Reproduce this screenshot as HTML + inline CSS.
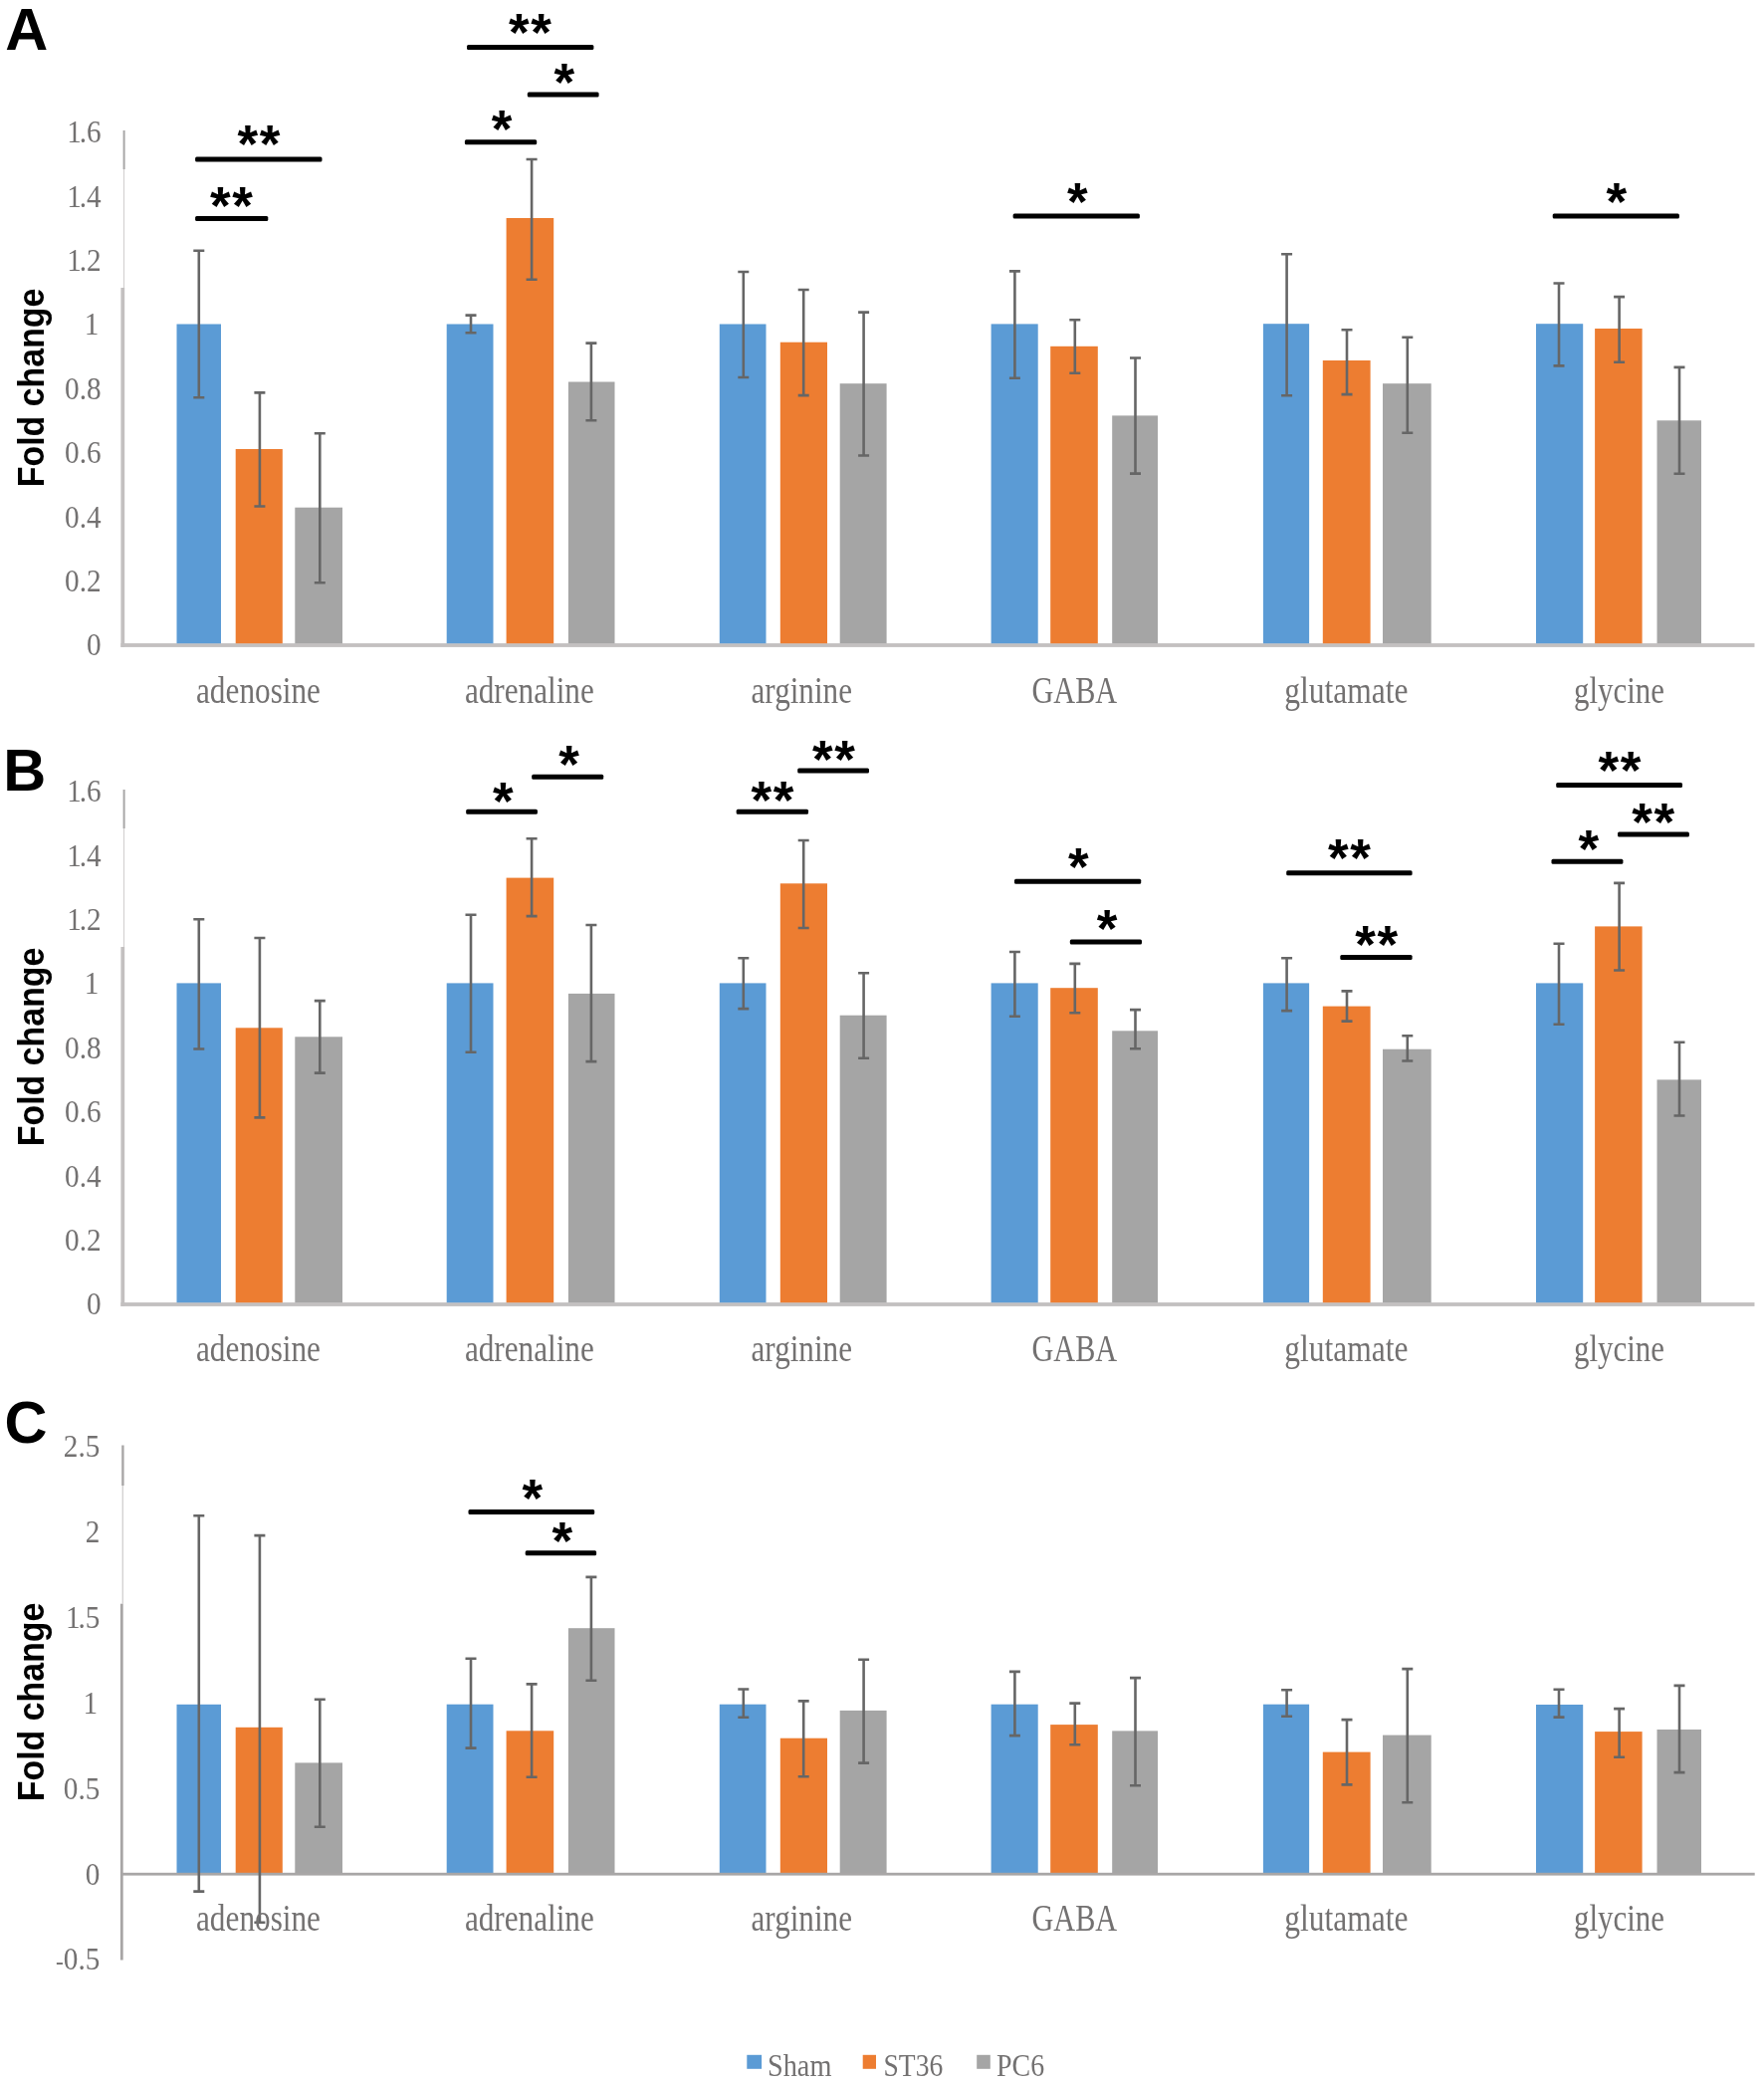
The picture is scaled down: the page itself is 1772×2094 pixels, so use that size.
<!DOCTYPE html>
<html lang="en"><head><meta charset="utf-8"><title>Fold change of neurotransmitters: Sham, ST36, PC6</title>
<style>html,body{margin:0;padding:0;background:#fff}svg{display:block;filter:blur(0.45px)}.cat{font-family:"Liberation Serif",serif;font-size:38px;fill:#737171}.tick{font-family:"Liberation Serif",serif;font-size:32.5px;fill:#737171}.star{font-family:"Liberation Sans",sans-serif;font-weight:bold;font-size:53px;fill:#000}.let{font-family:"Liberation Sans",sans-serif;font-weight:bold;font-size:59.5px;fill:#000}.yl{font-family:"Liberation Sans",sans-serif;font-weight:bold;font-size:37.5px;fill:#000}.leg{font-family:"Liberation Serif",serif;font-size:30.5px;fill:#737171}</style></head><body>
<svg width="1772" height="2094" viewBox="0 0 1772 2094">
<rect width="1772" height="2094" fill="#fff"/>
<g id="panelA">
<rect x="123.6" y="131" width="2" height="39" fill="#a9a7a7"/>
<rect x="123.9" y="170" width="1.2" height="119" fill="#d4d2d2"/>
<rect x="121.4" y="289" width="3.8" height="360.9" fill="#c3c0c0"/>
<rect x="121.4" y="646.1" width="1641.1" height="3.8" fill="#c3c0c0"/>
<rect x="177.5" y="325.5" width="44.5" height="320.7" fill="#5b9bd5"/>
<rect x="236.7" y="451" width="47.1" height="195.2" fill="#ed7d31"/>
<rect x="296.3" y="509.7" width="47.7" height="136.5" fill="#a5a5a5"/>
<rect x="448.7" y="325.5" width="46.8" height="320.7" fill="#5b9bd5"/>
<rect x="508.6" y="219" width="47.6" height="427.2" fill="#ed7d31"/>
<rect x="570.9" y="383.5" width="46.6" height="262.7" fill="#a5a5a5"/>
<rect x="722.8" y="325.5" width="46.7" height="320.7" fill="#5b9bd5"/>
<rect x="783.8" y="343.7" width="47.2" height="302.5" fill="#ed7d31"/>
<rect x="843.7" y="385.2" width="46.9" height="261" fill="#a5a5a5"/>
<rect x="995.6" y="325.4" width="47.1" height="320.8" fill="#5b9bd5"/>
<rect x="1055.2" y="347.8" width="47.6" height="298.4" fill="#ed7d31"/>
<rect x="1117.2" y="417.4" width="45.8" height="228.8" fill="#a5a5a5"/>
<rect x="1268.9" y="325.2" width="46.2" height="321" fill="#5b9bd5"/>
<rect x="1328.8" y="362" width="47.8" height="284.2" fill="#ed7d31"/>
<rect x="1389" y="385.2" width="48.7" height="261" fill="#a5a5a5"/>
<rect x="1543" y="325.2" width="47.2" height="321" fill="#5b9bd5"/>
<rect x="1602.1" y="330" width="47.5" height="316.2" fill="#ed7d31"/>
<rect x="1664.5" y="422.3" width="44.5" height="223.9" fill="#a5a5a5"/>
<path d="M199.8 251.5V399.5M194.3 251.7h11M194.3 399.3h11" stroke="#666666" stroke-width="2.6" fill="none"/>
<path d="M260.9 394.2V508.7M255.4 394.4h11M255.4 508.5h11" stroke="#666666" stroke-width="2.6" fill="none"/>
<path d="M321.3 435V585.5M315.8 435.2h11M315.8 585.3h11" stroke="#666666" stroke-width="2.6" fill="none"/>
<path d="M473 316.4V334.5M467.5 316.6h11M467.5 334.3h11" stroke="#666666" stroke-width="2.6" fill="none"/>
<path d="M534.1 159.8V281M528.6 160h11M528.6 280.8h11" stroke="#666666" stroke-width="2.6" fill="none"/>
<path d="M593.9 344.4V422.4M588.4 344.6h11M588.4 422.2h11" stroke="#666666" stroke-width="2.6" fill="none"/>
<path d="M746.8 272.8V379.2M741.3 273h11M741.3 379h11" stroke="#666666" stroke-width="2.6" fill="none"/>
<path d="M807.2 290.8V397.3M801.7 291h11M801.7 397.1h11" stroke="#666666" stroke-width="2.6" fill="none"/>
<path d="M867.6 313.4V457.7M862.1 313.6h11M862.1 457.5h11" stroke="#666666" stroke-width="2.6" fill="none"/>
<path d="M1019.4 272.2V380M1013.9 272.4h11M1013.9 379.8h11" stroke="#666666" stroke-width="2.6" fill="none"/>
<path d="M1079.8 321.1V375M1074.3 321.3h11M1074.3 374.8h11" stroke="#666666" stroke-width="2.6" fill="none"/>
<path d="M1140.5 359.3V475.8M1135 359.5h11M1135 475.6h11" stroke="#666666" stroke-width="2.6" fill="none"/>
<path d="M1292.6 255V397.5M1287.1 255.2h11M1287.1 397.3h11" stroke="#666666" stroke-width="2.6" fill="none"/>
<path d="M1353 331V396.3M1347.5 331.2h11M1347.5 396.1h11" stroke="#666666" stroke-width="2.6" fill="none"/>
<path d="M1413.8 338.6V434.9M1408.3 338.8h11M1408.3 434.7h11" stroke="#666666" stroke-width="2.6" fill="none"/>
<path d="M1566 284.3V367.6M1560.5 284.5h11M1560.5 367.4h11" stroke="#666666" stroke-width="2.6" fill="none"/>
<path d="M1626.6 297.9V364M1621.1 298.1h11M1621.1 363.8h11" stroke="#666666" stroke-width="2.6" fill="none"/>
<path d="M1687 368.7V475.9M1681.5 368.9h11M1681.5 475.7h11" stroke="#666666" stroke-width="2.6" fill="none"/>
<text class="tick" transform="translate(101.6 658.3) scale(0.9 1)" text-anchor="end">0</text>
<text class="tick" transform="translate(101.6 593.9) scale(0.9 1)" text-anchor="end">0.2</text>
<text class="tick" transform="translate(101.6 529.5) scale(0.9 1)" text-anchor="end">0.4</text>
<text class="tick" transform="translate(101.6 465.1) scale(0.9 1)" text-anchor="end">0.6</text>
<text class="tick" transform="translate(101.6 400.7) scale(0.9 1)" text-anchor="end">0.8</text>
<text class="tick" transform="translate(99.4 336.3) scale(0.9 1)" text-anchor="end">1</text>
<text class="tick" transform="translate(101.6 271.9) scale(0.9 1)" text-anchor="end">1<tspan dx="-2.5">.2</tspan></text>
<text class="tick" transform="translate(101.6 207.5) scale(0.9 1)" text-anchor="end">1<tspan dx="-2.5">.4</tspan></text>
<text class="tick" transform="translate(101.6 143.1) scale(0.9 1)" text-anchor="end">1<tspan dx="-2.5">.6</tspan></text>
<text class="cat" x="197" y="705.6" textLength="125" lengthAdjust="spacingAndGlyphs">adenosine</text>
<text class="cat" x="466.9" y="705.6" textLength="129.9" lengthAdjust="spacingAndGlyphs">adrenaline</text>
<text class="cat" x="754.5" y="705.6" textLength="101.5" lengthAdjust="spacingAndGlyphs">arginine</text>
<text class="cat" x="1036.5" y="705.6" textLength="85.6" lengthAdjust="spacingAndGlyphs">GABA</text>
<text class="cat" x="1290.2" y="705.6" textLength="124.2" lengthAdjust="spacingAndGlyphs">glutamate</text>
<text class="cat" x="1581" y="705.6" textLength="91" lengthAdjust="spacingAndGlyphs">glycine</text>
<rect x="196.1" y="157.5" width="127.4" height="5" rx="1.5" fill="#000"/>
<text class="star" x="260" y="162.9" text-anchor="middle" letter-spacing="1.6">*<tspan letter-spacing="0">*</tspan></text>
<rect x="196.1" y="217.1" width="73.2" height="5" rx="1.5" fill="#000"/>
<text class="star" x="232.4" y="224.95" text-anchor="middle" letter-spacing="1.6">*<tspan letter-spacing="0">*</tspan></text>
<rect x="469" y="44.9" width="127.4" height="5" rx="1.5" fill="#000"/>
<text class="star" x="532.4" y="50.9" text-anchor="middle" letter-spacing="1.6">*<tspan letter-spacing="0">*</tspan></text>
<rect x="529.8" y="92.5" width="71.8" height="5" rx="1.5" fill="#000"/>
<text class="star" x="566.7" y="100.5" text-anchor="middle">*</text>
<rect x="466.9" y="140.2" width="72.3" height="5" rx="1.5" fill="#000"/>
<text class="star" x="504" y="148.1" text-anchor="middle">*</text>
<rect x="1017.6" y="214.4" width="127.3" height="5" rx="1.5" fill="#000"/>
<text class="star" x="1082.3" y="220.6" text-anchor="middle">*</text>
<rect x="1559.7" y="214.5" width="127.2" height="5" rx="1.5" fill="#000"/>
<text class="star" x="1623.8" y="221.1" text-anchor="middle">*</text>
<text class="let" x="5.3" y="50">A</text>
<text class="yl" transform="translate(44.3 489.2) rotate(-90)" textLength="199.6" lengthAdjust="spacingAndGlyphs">Fold change</text>
</g>
<g id="panelB">
<rect x="123.6" y="793" width="2" height="39" fill="#a9a7a7"/>
<rect x="123.9" y="832" width="1.2" height="119" fill="#d4d2d2"/>
<rect x="121.4" y="951" width="3.8" height="360.9" fill="#c3c0c0"/>
<rect x="121.4" y="1308.1" width="1641.1" height="3.8" fill="#c3c0c0"/>
<rect x="177.5" y="987.4" width="44.5" height="320.8" fill="#5b9bd5"/>
<rect x="236.7" y="1032.3" width="47.1" height="275.9" fill="#ed7d31"/>
<rect x="296.3" y="1041.3" width="47.7" height="266.9" fill="#a5a5a5"/>
<rect x="448.7" y="987.4" width="46.8" height="320.8" fill="#5b9bd5"/>
<rect x="508.6" y="881.6" width="47.6" height="426.6" fill="#ed7d31"/>
<rect x="570.9" y="997.9" width="46.6" height="310.3" fill="#a5a5a5"/>
<rect x="722.8" y="987.4" width="46.7" height="320.8" fill="#5b9bd5"/>
<rect x="783.8" y="887.3" width="47.2" height="420.9" fill="#ed7d31"/>
<rect x="843.7" y="1019.7" width="46.9" height="288.5" fill="#a5a5a5"/>
<rect x="995.6" y="987.4" width="47.1" height="320.8" fill="#5b9bd5"/>
<rect x="1055.2" y="992.2" width="47.6" height="316" fill="#ed7d31"/>
<rect x="1117.2" y="1035.3" width="45.8" height="272.9" fill="#a5a5a5"/>
<rect x="1268.9" y="987.4" width="46.2" height="320.8" fill="#5b9bd5"/>
<rect x="1328.8" y="1010.6" width="47.8" height="297.6" fill="#ed7d31"/>
<rect x="1389" y="1053.7" width="48.7" height="254.5" fill="#a5a5a5"/>
<rect x="1543" y="987.4" width="47.2" height="320.8" fill="#5b9bd5"/>
<rect x="1602.1" y="930.4" width="47.5" height="377.8" fill="#ed7d31"/>
<rect x="1664.5" y="1084.4" width="44.5" height="223.8" fill="#a5a5a5"/>
<path d="M199.8 923V1053.7M194.3 923.2h11M194.3 1053.5h11" stroke="#666666" stroke-width="2.6" fill="none"/>
<path d="M260.9 941.8V1122.6M255.4 942h11M255.4 1122.4h11" stroke="#666666" stroke-width="2.6" fill="none"/>
<path d="M321.3 1004.9V1077.8M315.8 1005.1h11M315.8 1077.6h11" stroke="#666666" stroke-width="2.6" fill="none"/>
<path d="M473 918.6V1057M467.5 918.8h11M467.5 1056.8h11" stroke="#666666" stroke-width="2.6" fill="none"/>
<path d="M534.1 842.1V920.3M528.6 842.3h11M528.6 920.1h11" stroke="#666666" stroke-width="2.6" fill="none"/>
<path d="M593.9 928.8V1066.3M588.4 929h11M588.4 1066.1h11" stroke="#666666" stroke-width="2.6" fill="none"/>
<path d="M746.8 962V1013.3M741.3 962.2h11M741.3 1013.1h11" stroke="#666666" stroke-width="2.6" fill="none"/>
<path d="M807.2 843.8V932.2M801.7 844h11M801.7 932h11" stroke="#666666" stroke-width="2.6" fill="none"/>
<path d="M867.6 977V1062.9M862.1 977.2h11M862.1 1062.7h11" stroke="#666666" stroke-width="2.6" fill="none"/>
<path d="M1019.4 955.8V1021M1013.9 956h11M1013.9 1020.8h11" stroke="#666666" stroke-width="2.6" fill="none"/>
<path d="M1079.8 967.7V1017.5M1074.3 967.9h11M1074.3 1017.3h11" stroke="#666666" stroke-width="2.6" fill="none"/>
<path d="M1140.5 1013.9V1053.5M1135 1014.1h11M1135 1053.3h11" stroke="#666666" stroke-width="2.6" fill="none"/>
<path d="M1292.6 962V1015.3M1287.1 962.2h11M1287.1 1015.1h11" stroke="#666666" stroke-width="2.6" fill="none"/>
<path d="M1353 995.2V1025.8M1347.5 995.4h11M1347.5 1025.6h11" stroke="#666666" stroke-width="2.6" fill="none"/>
<path d="M1413.8 1040V1065.7M1408.3 1040.2h11M1408.3 1065.5h11" stroke="#666666" stroke-width="2.6" fill="none"/>
<path d="M1566 947.5V1029M1560.5 947.7h11M1560.5 1028.8h11" stroke="#666666" stroke-width="2.6" fill="none"/>
<path d="M1626.6 886.7V974.7M1621.1 886.9h11M1621.1 974.5h11" stroke="#666666" stroke-width="2.6" fill="none"/>
<path d="M1687 1046.5V1120.7M1681.5 1046.7h11M1681.5 1120.5h11" stroke="#666666" stroke-width="2.6" fill="none"/>
<text class="tick" transform="translate(101.6 1320.3) scale(0.9 1)" text-anchor="end">0</text>
<text class="tick" transform="translate(101.6 1255.9) scale(0.9 1)" text-anchor="end">0.2</text>
<text class="tick" transform="translate(101.6 1191.5) scale(0.9 1)" text-anchor="end">0.4</text>
<text class="tick" transform="translate(101.6 1127.1) scale(0.9 1)" text-anchor="end">0.6</text>
<text class="tick" transform="translate(101.6 1062.7) scale(0.9 1)" text-anchor="end">0.8</text>
<text class="tick" transform="translate(99.4 998.3) scale(0.9 1)" text-anchor="end">1</text>
<text class="tick" transform="translate(101.6 933.9) scale(0.9 1)" text-anchor="end">1<tspan dx="-2.5">.2</tspan></text>
<text class="tick" transform="translate(101.6 869.5) scale(0.9 1)" text-anchor="end">1<tspan dx="-2.5">.4</tspan></text>
<text class="tick" transform="translate(101.6 805.1) scale(0.9 1)" text-anchor="end">1<tspan dx="-2.5">.6</tspan></text>
<text class="cat" x="197" y="1366.8" textLength="125" lengthAdjust="spacingAndGlyphs">adenosine</text>
<text class="cat" x="466.9" y="1366.8" textLength="129.9" lengthAdjust="spacingAndGlyphs">adrenaline</text>
<text class="cat" x="754.5" y="1366.8" textLength="101.5" lengthAdjust="spacingAndGlyphs">arginine</text>
<text class="cat" x="1036.5" y="1366.8" textLength="85.6" lengthAdjust="spacingAndGlyphs">GABA</text>
<text class="cat" x="1290.2" y="1366.8" textLength="124.2" lengthAdjust="spacingAndGlyphs">glutamate</text>
<text class="cat" x="1581" y="1366.8" textLength="91" lengthAdjust="spacingAndGlyphs">glycine</text>
<rect x="468.2" y="812.8" width="71.7" height="5" rx="1.5" fill="#000"/>
<text class="star" x="505.2" y="822.8" text-anchor="middle">*</text>
<rect x="534.2" y="777.7" width="72" height="5" rx="1.5" fill="#000"/>
<text class="star" x="571.6" y="786.4" text-anchor="middle">*</text>
<rect x="739.7" y="812.8" width="72.3" height="5" rx="1.5" fill="#000"/>
<text class="star" x="775.9" y="822.1" text-anchor="middle" letter-spacing="1.6">*<tspan letter-spacing="0">*</tspan></text>
<rect x="801.2" y="771.4" width="71.8" height="5" rx="1.5" fill="#000"/>
<text class="star" x="837.4" y="781" text-anchor="middle" letter-spacing="1.6">*<tspan letter-spacing="0">*</tspan></text>
<rect x="1019" y="882.8" width="127.2" height="5" rx="1.5" fill="#000"/>
<text class="star" x="1083.4" y="889.1" text-anchor="middle">*</text>
<rect x="1074.8" y="943.5" width="72.2" height="5" rx="1.5" fill="#000"/>
<text class="star" x="1112" y="951.2" text-anchor="middle">*</text>
<rect x="1292.2" y="874.3" width="126.4" height="5" rx="1.5" fill="#000"/>
<text class="star" x="1355.4" y="880.4" text-anchor="middle" letter-spacing="1.6">*<tspan letter-spacing="0">*</tspan></text>
<rect x="1346.3" y="959.1" width="72.3" height="5" rx="1.5" fill="#000"/>
<text class="star" x="1382.6" y="967.4" text-anchor="middle" letter-spacing="1.6">*<tspan letter-spacing="0">*</tspan></text>
<rect x="1563.2" y="785.9" width="126.8" height="5" rx="1.5" fill="#000"/>
<text class="star" x="1627" y="791.6" text-anchor="middle" letter-spacing="1.6">*<tspan letter-spacing="0">*</tspan></text>
<rect x="1625" y="835.6" width="71.9" height="5" rx="1.5" fill="#000"/>
<text class="star" x="1660.7" y="844.2" text-anchor="middle" letter-spacing="1.6">*<tspan letter-spacing="0">*</tspan></text>
<rect x="1558.5" y="862.8" width="71.9" height="5" rx="1.5" fill="#000"/>
<text class="star" x="1595.7" y="870.6" text-anchor="middle">*</text>
<text class="let" x="3.2" y="794.4">B</text>
<text class="yl" transform="translate(44.3 1151.2) rotate(-90)" textLength="199.6" lengthAdjust="spacingAndGlyphs">Fold change</text>
</g>
<g id="panelC">
<rect x="122.2" y="1451.5" width="2.4" height="40.5" fill="#a9a7a7"/>
<rect x="122.6" y="1492" width="1.4" height="118.7" fill="#d4d2d2"/>
<rect x="120.9" y="1610.7" width="2.8" height="357.8" fill="#a8a6a6"/>
<rect x="177.5" y="1711.8" width="44.5" height="169.4" fill="#5b9bd5"/>
<rect x="236.7" y="1734.8" width="47.1" height="146.4" fill="#ed7d31"/>
<rect x="296.3" y="1770.4" width="47.7" height="110.8" fill="#a5a5a5"/>
<rect x="448.7" y="1711.7" width="46.8" height="169.5" fill="#5b9bd5"/>
<rect x="508.6" y="1738.3" width="47.6" height="142.9" fill="#ed7d31"/>
<rect x="570.9" y="1635.2" width="46.6" height="246" fill="#a5a5a5"/>
<rect x="722.8" y="1711.7" width="46.7" height="169.5" fill="#5b9bd5"/>
<rect x="783.8" y="1745.7" width="47.2" height="135.5" fill="#ed7d31"/>
<rect x="843.7" y="1717.9" width="46.9" height="163.3" fill="#a5a5a5"/>
<rect x="995.6" y="1711.7" width="47.1" height="169.5" fill="#5b9bd5"/>
<rect x="1055.2" y="1732.1" width="47.6" height="149.1" fill="#ed7d31"/>
<rect x="1117.2" y="1738.4" width="45.8" height="142.8" fill="#a5a5a5"/>
<rect x="1268.9" y="1711.7" width="46.2" height="169.5" fill="#5b9bd5"/>
<rect x="1328.8" y="1759.6" width="47.8" height="121.6" fill="#ed7d31"/>
<rect x="1389" y="1742.6" width="48.7" height="138.6" fill="#a5a5a5"/>
<rect x="1543" y="1712" width="47.2" height="169.2" fill="#5b9bd5"/>
<rect x="1602.1" y="1739.1" width="47.5" height="142.1" fill="#ed7d31"/>
<rect x="1664.5" y="1737" width="44.5" height="144.2" fill="#a5a5a5"/>
<rect x="121.1" y="1880.8" width="1641.6" height="2.8" fill="#a8a6a6"/>
<path d="M199.8 1522V1899.8M194.3 1522.2h11M194.3 1899.6h11" stroke="#666666" stroke-width="2.6" fill="none"/>
<path d="M260.9 1541.9V1931M255.4 1542.1h11M255.4 1930.8h11" stroke="#666666" stroke-width="2.6" fill="none"/>
<path d="M321.3 1706.5V1835M315.8 1706.7h11M315.8 1834.8h11" stroke="#666666" stroke-width="2.6" fill="none"/>
<path d="M473 1665.6V1755.8M467.5 1665.8h11M467.5 1755.6h11" stroke="#666666" stroke-width="2.6" fill="none"/>
<path d="M534.1 1691.2V1785M528.6 1691.4h11M528.6 1784.8h11" stroke="#666666" stroke-width="2.6" fill="none"/>
<path d="M593.9 1583.7V1688M588.4 1583.9h11M588.4 1687.8h11" stroke="#666666" stroke-width="2.6" fill="none"/>
<path d="M746.8 1696.3V1724.9M741.3 1696.5h11M741.3 1724.7h11" stroke="#666666" stroke-width="2.6" fill="none"/>
<path d="M807.2 1708.2V1784.4M801.7 1708.4h11M801.7 1784.2h11" stroke="#666666" stroke-width="2.6" fill="none"/>
<path d="M867.6 1666.5V1770.8M862.1 1666.7h11M862.1 1770.6h11" stroke="#666666" stroke-width="2.6" fill="none"/>
<path d="M1019.4 1678.7V1743.3M1013.9 1678.9h11M1013.9 1743.1h11" stroke="#666666" stroke-width="2.6" fill="none"/>
<path d="M1079.8 1710.4V1752.4M1074.3 1710.6h11M1074.3 1752.2h11" stroke="#666666" stroke-width="2.6" fill="none"/>
<path d="M1140.5 1684.9V1793.5M1135 1685.1h11M1135 1793.3h11" stroke="#666666" stroke-width="2.6" fill="none"/>
<path d="M1292.6 1697.1V1724M1287.1 1697.3h11M1287.1 1723.8h11" stroke="#666666" stroke-width="2.6" fill="none"/>
<path d="M1353 1726.9V1792.6M1347.5 1727.1h11M1347.5 1792.4h11" stroke="#666666" stroke-width="2.6" fill="none"/>
<path d="M1413.8 1675.9V1810.5M1408.3 1676.1h11M1408.3 1810.3h11" stroke="#666666" stroke-width="2.6" fill="none"/>
<path d="M1566 1696.5V1724.8M1560.5 1696.7h11M1560.5 1724.6h11" stroke="#666666" stroke-width="2.6" fill="none"/>
<path d="M1626.6 1715.9V1764.9M1621.1 1716.1h11M1621.1 1764.7h11" stroke="#666666" stroke-width="2.6" fill="none"/>
<path d="M1687 1692.7V1780.3M1681.5 1692.9h11M1681.5 1780.1h11" stroke="#666666" stroke-width="2.6" fill="none"/>
<text class="tick" transform="translate(100.4 1978.35) scale(0.9 1)" text-anchor="end"><tspan font-size="26">-</tspan>0.5</text>
<text class="tick" transform="translate(100.4 1892.5) scale(0.9 1)" text-anchor="end">0</text>
<text class="tick" transform="translate(100.4 1806.65) scale(0.9 1)" text-anchor="end">0.5</text>
<text class="tick" transform="translate(98.2 1720.8) scale(0.9 1)" text-anchor="end">1</text>
<text class="tick" transform="translate(100.4 1634.95) scale(0.9 1)" text-anchor="end">1<tspan dx="-2.5">.5</tspan></text>
<text class="tick" transform="translate(100.4 1549.1) scale(0.9 1)" text-anchor="end">2</text>
<text class="tick" transform="translate(100.4 1463.25) scale(0.9 1)" text-anchor="end">2.5</text>
<text class="cat" x="197" y="1939.2" textLength="125" lengthAdjust="spacingAndGlyphs">adenosine</text>
<text class="cat" x="466.9" y="1939.2" textLength="129.9" lengthAdjust="spacingAndGlyphs">adrenaline</text>
<text class="cat" x="754.5" y="1939.2" textLength="101.5" lengthAdjust="spacingAndGlyphs">arginine</text>
<text class="cat" x="1036.5" y="1939.2" textLength="85.6" lengthAdjust="spacingAndGlyphs">GABA</text>
<text class="cat" x="1290.2" y="1939.2" textLength="124.2" lengthAdjust="spacingAndGlyphs">glutamate</text>
<text class="cat" x="1581" y="1939.2" textLength="91" lengthAdjust="spacingAndGlyphs">glycine</text>
<rect x="470.5" y="1515.9" width="126.7" height="5" rx="1.5" fill="#000"/>
<text class="star" x="534.9" y="1522.5" text-anchor="middle">*</text>
<rect x="527.7" y="1557.3" width="71.4" height="5" rx="1.5" fill="#000"/>
<text class="star" x="564.7" y="1565.6" text-anchor="middle">*</text>
<text class="let" x="4.5" y="1449.4">C</text>
<text class="yl" transform="translate(44.3 1809.2) rotate(-90)" textLength="199.6" lengthAdjust="spacingAndGlyphs">Fold change</text>
</g>
<g id="legend">
<rect x="750.3" y="2063.8" width="14.8" height="14" fill="#5b9bd5"/>
<text class="leg" x="771" y="2084.6" textLength="64.4" lengthAdjust="spacingAndGlyphs">Sham</text>
<rect x="866.7" y="2063.8" width="13.3" height="14" fill="#ed7d31"/>
<text class="leg" x="887.5" y="2084.6" textLength="59.7" lengthAdjust="spacingAndGlyphs">ST36</text>
<rect x="981.2" y="2063.8" width="13.6" height="14" fill="#a5a5a5"/>
<text class="leg" x="1001.1" y="2084.6" textLength="48.1" lengthAdjust="spacingAndGlyphs">PC6</text>
</g>
</svg></body></html>
